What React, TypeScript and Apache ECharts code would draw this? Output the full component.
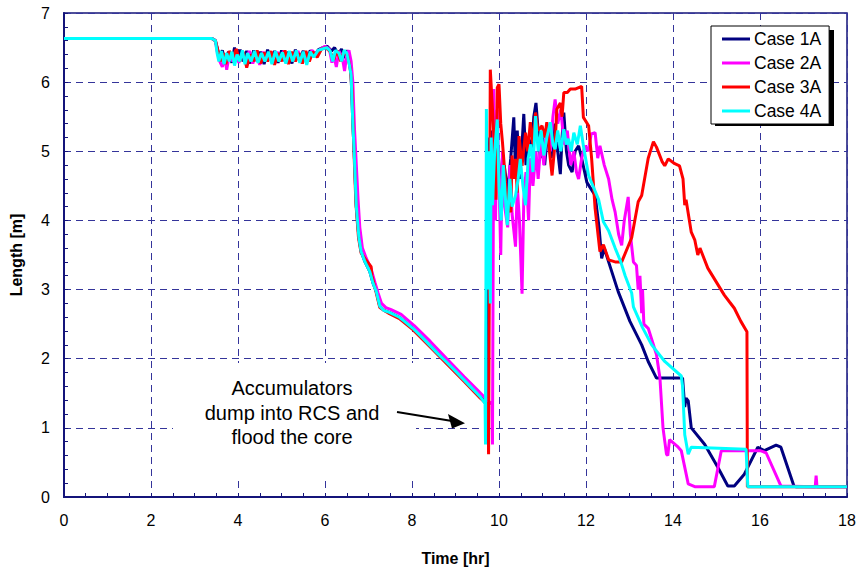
import { useEffect, useRef } from "react";
import * as echarts from "echarts";

const FONT = "'Liberation Sans', Arial, Helvetica, sans-serif";

const CASE_NAMES = ["Case 1A", "Case 2A", "Case 3A", "Case 4A"];
const CASE_COLORS = ["#000080", "#ff00ff", "#ff0000", "#00ffff"];

const X_TICKS = [0, 2, 4, 6, 8, 10, 12, 14, 16, 18];
const Y_TICKS = [0, 1, 2, 3, 4, 5, 6, 7];

// [time (hr), length (m)]
const case1A: [number, number][] = [
  [0, 6.63], [3.4, 6.63], [3.48, 6.6], [3.52, 6.5], [3.58, 6.35], [3.64, 6.46], [3.7, 6.3],
  [3.78, 6.44], [3.86, 6.28], [3.92, 6.5], [3.98, 6.32], [4.05, 6.47], [4.12, 6.3], [4.2, 6.45],
  [4.28, 6.27], [4.36, 6.46], [4.44, 6.3], [4.52, 6.44], [4.6, 6.26], [4.68, 6.47], [4.76, 6.32],
  [4.84, 6.45], [4.92, 6.28], [5.0, 6.46], [5.08, 6.3], [5.16, 6.44], [5.24, 6.27], [5.32, 6.47],
  [5.4, 6.33], [5.5, 6.45], [5.58, 6.3], [5.66, 6.46], [5.75, 6.38], [5.85, 6.47], [5.95, 6.5],
  [6.05, 6.52], [6.15, 6.45], [6.22, 6.5], [6.3, 6.4], [6.38, 6.48], [6.45, 6.35], [6.52, 6.46],
  [6.56, 6.3], [6.6, 6.1], [6.64, 5.4], [6.67, 5.0], [6.72, 4.2], [6.78, 3.75], [6.83, 3.55],
  [6.92, 3.4], [7.03, 3.26], [7.1, 3.1], [7.18, 2.97], [7.26, 2.76], [7.35, 2.7], [7.48, 2.67],
  [7.71, 2.6], [7.85, 2.53], [8.02, 2.44], [8.2, 2.33], [8.4, 2.2], [8.6, 2.07], [8.78, 1.96],
  [9.0, 1.82], [9.2, 1.69], [9.4, 1.56], [9.57, 1.45], [9.69, 1.36], [9.7, 0.8], [9.73, 5.2],
  [9.78, 4.4], [9.85, 5.3], [9.9, 4.5], [9.98, 5.0], [10.05, 4.3], [10.12, 4.8], [10.2, 4.4],
  [10.27, 4.9], [10.34, 5.49], [10.38, 4.7], [10.42, 5.3], [10.47, 4.6], [10.52, 5.0],
  [10.57, 5.54], [10.62, 4.8], [10.68, 5.2], [10.75, 5.0], [10.8, 5.5], [10.85, 5.7], [10.9, 5.3],
  [10.95, 4.9], [11.0, 5.2], [11.05, 4.8], [11.12, 5.3], [11.2, 4.9], [11.28, 5.4], [11.35, 5.0],
  [11.41, 4.67], [11.45, 5.2], [11.49, 5.56], [11.55, 5.0], [11.6, 4.8], [11.68, 4.7], [11.75, 5.0],
  [11.83, 5.08], [11.9, 4.9], [12.02, 4.55], [12.21, 4.36], [12.3, 3.9], [12.36, 3.45],
  [12.42, 3.6], [12.52, 3.4], [12.74, 2.97], [13.01, 2.54], [13.28, 2.2], [13.43, 1.96],
  [13.62, 1.72], [14.22, 1.72], [14.27, 1.3], [14.3, 1.43], [14.35, 1.39], [14.42, 1.0],
  [14.73, 0.76], [15.03, 0.43], [15.26, 0.16], [15.41, 0.16], [15.64, 0.33], [15.95, 0.72],
  [16.1, 0.67], [16.37, 0.75], [16.48, 0.72], [16.78, 0.16], [16.82, 0.15], [18, 0.15],
];

const case2A: [number, number][] = [
  [0, 6.63], [3.4, 6.63], [3.48, 6.6], [3.52, 6.45], [3.58, 6.3], [3.64, 6.22], [3.7, 6.35],
  [3.74, 6.18], [3.8, 6.4], [3.88, 6.3], [3.95, 6.45], [4.02, 6.28], [4.1, 6.42], [4.18, 6.3],
  [4.26, 6.45], [4.34, 6.27], [4.42, 6.4], [4.5, 6.25], [4.58, 6.44], [4.66, 6.3], [4.74, 6.42],
  [4.82, 6.27], [4.9, 6.44], [4.98, 6.3], [5.06, 6.46], [5.14, 6.28], [5.22, 6.42], [5.3, 6.3],
  [5.38, 6.45], [5.46, 6.28], [5.54, 6.44], [5.62, 6.32], [5.7, 6.46], [5.8, 6.4], [5.9, 6.48],
  [6.0, 6.52], [6.1, 6.48], [6.16, 6.28], [6.2, 6.4], [6.26, 6.22], [6.32, 6.45], [6.4, 6.35],
  [6.45, 6.16], [6.5, 6.4], [6.55, 6.46], [6.6, 6.3], [6.64, 6.0], [6.68, 5.3], [6.72, 4.8],
  [6.76, 4.3], [6.8, 3.9], [6.86, 3.6], [6.95, 3.45], [7.06, 3.3], [7.15, 3.1], [7.22, 2.95],
  [7.3, 2.8], [7.4, 2.74], [7.52, 2.71], [7.75, 2.64], [8.05, 2.48], [8.42, 2.25], [8.8, 2.0],
  [9.2, 1.74], [9.5, 1.55], [9.7, 1.42], [9.84, 1.34], [9.85, 0.76], [9.88, 5.9], [9.92, 4.0],
  [9.96, 5.6], [10.0, 4.6], [10.04, 3.5], [10.08, 5.0], [10.13, 4.2], [10.2, 3.9], [10.25, 4.8],
  [10.3, 4.1], [10.38, 3.62], [10.42, 4.5], [10.47, 4.0], [10.53, 2.94], [10.57, 4.3],
  [10.62, 4.7], [10.68, 4.0], [10.72, 4.9], [10.78, 4.5], [10.85, 5.0], [10.9, 4.6], [10.97, 5.2],
  [11.03, 4.8], [11.1, 5.4], [11.18, 5.0], [11.24, 5.5], [11.29, 5.75], [11.35, 5.4],
  [11.42, 5.6], [11.5, 5.1], [11.57, 5.3], [11.65, 4.8], [11.72, 5.0], [11.78, 4.7], [11.83, 4.6],
  [11.9, 4.9], [11.98, 5.08], [12.05, 5.0], [12.12, 5.25], [12.21, 5.27], [12.27, 4.9],
  [12.32, 5.08], [12.42, 4.8], [12.52, 4.6], [12.6, 4.3], [12.67, 4.12], [12.75, 3.8],
  [12.82, 3.64], [12.88, 4.0], [12.97, 4.34], [13.02, 3.8], [13.09, 3.4], [13.16, 3.35],
  [13.2, 3.0], [13.24, 3.2], [13.28, 2.66], [13.3, 3.0], [13.33, 2.5], [13.43, 2.44],
  [13.62, 2.06], [13.7, 1.72], [13.77, 1.0], [13.85, 0.62], [13.88, 0.6], [13.92, 0.83],
  [14.12, 0.72], [14.19, 0.67], [14.35, 0.19], [14.5, 0.15], [14.95, 0.15], [15.11, 0.67],
  [15.64, 0.67], [16.0, 0.67], [16.14, 0.64], [16.48, 0.16], [17.27, 0.15], [17.29, 0.31],
  [17.31, 0.15], [18, 0.15],
];

const case3A: [number, number][] = [
  [0, 6.63], [3.4, 6.63], [3.48, 6.6], [3.52, 6.5], [3.6, 6.3], [3.66, 6.42], [3.72, 6.26],
  [3.8, 6.45], [3.88, 6.35], [3.96, 6.48], [4.04, 6.3], [4.12, 6.44], [4.2, 6.21], [4.28, 6.4],
  [4.36, 6.3], [4.44, 6.46], [4.52, 6.27], [4.6, 6.43], [4.68, 6.3], [4.76, 6.45], [4.84, 6.25],
  [4.92, 6.42], [5.0, 6.3], [5.08, 6.46], [5.16, 6.26], [5.24, 6.44], [5.32, 6.3], [5.4, 6.42],
  [5.48, 6.27], [5.56, 6.45], [5.64, 6.3], [5.72, 6.44], [5.82, 6.36], [5.92, 6.48], [6.02, 6.5],
  [6.12, 6.44], [6.2, 6.32], [6.28, 6.46], [6.36, 6.3], [6.44, 6.45], [6.52, 6.38], [6.58, 6.2],
  [6.62, 5.9], [6.66, 5.1], [6.71, 4.25], [6.77, 3.75], [6.83, 3.53], [6.95, 3.42], [7.06, 3.33],
  [7.08, 3.2], [7.18, 2.95], [7.26, 2.74], [7.48, 2.65], [7.71, 2.58], [8.02, 2.42], [8.4, 2.18],
  [8.78, 1.94], [9.2, 1.67], [9.57, 1.43], [9.75, 1.33], [9.76, 0.62], [9.8, 6.18], [9.85, 5.61],
  [9.89, 5.13], [9.93, 4.3], [9.96, 5.92], [10.0, 5.97], [10.04, 5.4], [10.08, 5.13],
  [10.15, 4.55], [10.2, 4.22], [10.27, 4.12], [10.3, 4.94], [10.34, 4.6], [10.38, 4.89],
  [10.42, 4.4], [10.46, 5.22], [10.53, 4.79], [10.61, 5.27], [10.66, 5.0], [10.72, 5.42],
  [10.78, 5.1], [10.84, 5.56], [10.9, 5.3], [10.99, 5.37], [11.05, 5.2], [11.1, 5.42],
  [11.16, 5.0], [11.22, 4.65], [11.29, 5.13], [11.33, 5.61], [11.41, 5.7], [11.45, 5.5],
  [11.49, 5.85], [11.57, 5.85], [11.64, 5.9], [11.75, 5.9], [11.9, 5.94], [11.94, 5.49],
  [12.06, 5.37], [12.13, 4.89], [12.21, 4.17], [12.32, 3.55], [12.4, 3.65], [12.52, 3.43],
  [12.67, 3.4], [12.82, 3.4], [13.05, 3.75], [13.2, 4.27], [13.28, 4.36], [13.43, 4.9],
  [13.55, 5.14], [13.62, 5.06], [13.75, 4.85], [13.81, 4.79], [13.89, 4.89], [14.04, 4.82],
  [14.15, 4.79], [14.23, 4.6], [14.27, 4.22], [14.3, 4.3], [14.42, 3.83], [14.5, 3.72],
  [14.57, 3.5], [14.62, 3.6], [14.8, 3.31], [15.18, 2.92], [15.3, 2.82], [15.41, 2.73],
  [15.56, 2.54], [15.7, 2.39], [15.71, 0.15], [18, 0.15],
];

const case4A: [number, number][] = [
  [0, 6.63], [3.4, 6.63], [3.48, 6.6], [3.52, 6.42], [3.56, 6.3], [3.62, 6.45], [3.68, 6.26],
  [3.74, 6.42], [3.8, 6.3], [3.86, 6.44], [3.92, 6.24], [3.98, 6.4], [4.04, 6.3], [4.1, 6.46],
  [4.16, 6.26], [4.22, 6.42], [4.3, 6.3], [4.38, 6.45], [4.46, 6.28], [4.54, 6.42], [4.62, 6.3],
  [4.7, 6.44], [4.78, 6.26], [4.86, 6.45], [4.94, 6.3], [5.02, 6.43], [5.1, 6.27], [5.18, 6.45],
  [5.26, 6.3], [5.34, 6.46], [5.42, 6.28], [5.5, 6.44], [5.58, 6.25], [5.66, 6.44], [5.74, 6.36],
  [5.84, 6.46], [5.94, 6.48], [6.04, 6.5], [6.12, 6.45], [6.18, 6.3], [6.24, 6.46], [6.32, 6.42],
  [6.38, 6.3], [6.44, 6.46], [6.5, 6.42], [6.56, 6.25], [6.6, 6.1], [6.64, 5.4], [6.67, 5.0],
  [6.72, 4.2], [6.78, 3.75], [6.83, 3.55], [6.92, 3.4], [7.03, 3.26], [7.1, 3.1], [7.18, 2.97],
  [7.26, 2.76], [7.35, 2.7], [7.48, 2.67], [7.71, 2.6], [7.85, 2.53], [8.02, 2.44], [8.2, 2.33],
  [8.4, 2.2], [8.6, 2.07], [8.78, 1.96], [9.0, 1.82], [9.2, 1.69], [9.4, 1.56], [9.57, 1.45],
  [9.68, 1.35], [9.69, 0.76], [9.71, 5.61], [9.74, 3.0], [9.76, 5.0], [9.8, 2.8], [9.82, 5.2],
  [9.85, 4.22], [9.9, 5.0], [9.96, 5.46], [10.0, 4.5], [10.05, 4.0], [10.1, 4.8], [10.15, 4.3],
  [10.19, 3.93], [10.25, 4.6], [10.3, 4.2], [10.38, 4.36], [10.44, 4.6], [10.49, 4.89],
  [10.55, 4.5], [10.61, 4.22], [10.67, 4.9], [10.73, 5.1], [10.78, 4.7], [10.84, 5.51],
  [10.9, 5.0], [10.97, 5.3], [11.03, 4.94], [11.1, 5.2], [11.18, 5.42], [11.24, 5.1],
  [11.29, 5.03], [11.35, 5.3], [11.42, 5.0], [11.49, 5.32], [11.55, 5.1], [11.6, 5.18],
  [11.66, 5.0], [11.72, 5.27], [11.8, 5.1], [11.87, 5.37], [11.94, 5.08], [12.06, 4.65],
  [12.29, 4.3], [12.4, 3.98], [12.52, 3.85], [12.67, 3.6], [12.8, 3.4], [12.9, 3.2],
  [13.05, 2.95], [13.09, 2.75], [13.3, 2.45], [13.51, 2.2], [13.81, 1.96], [14.19, 1.75],
  [14.22, 1.6], [14.27, 0.9], [14.35, 0.62], [14.42, 0.72], [15.68, 0.69], [15.72, 0.15],
  [18, 0.15],
];

const CASE_DATA = [case1A, case2A, case3A, case4A];

const ANNOTATION = ["Accumulators", "dump into RCS and", "flood the core"];

const GRID_COLOR = "#34349a";
const AXIS_COLOR = "#14147a";

export default function App() {
  const ref = useRef<HTMLDivElement>(null);

  useEffect(() => {
    if (!ref.current) return;
    const chart = echarts.init(ref.current, null, { renderer: "svg" });

    chart.setOption({
      animation: false,
      backgroundColor: "#ffffff",
      textStyle: { fontFamily: FONT },
      grid: {
        left: 60,
        right: 12,
        top: 13,
        bottom: 71,
        show: true,
        borderColor: AXIS_COLOR,
        borderWidth: 1.5,
        backgroundColor: "transparent",
      },
      xAxis: {
        type: "value",
        min: X_TICKS[0],
        max: X_TICKS[X_TICKS.length - 1],
        interval: X_TICKS[1] - X_TICKS[0],
        name: "Time [hr]",
        nameLocation: "middle",
        nameGap: 53,
        nameTextStyle: { fontSize: 16, fontWeight: "bold", color: "#000", fontFamily: FONT },
        axisLine: { show: true, lineStyle: { color: AXIS_COLOR, width: 2 } },
        axisTick: { show: true, inside: true, length: 4, lineStyle: { color: AXIS_COLOR } },
        minorTick: { show: true, splitNumber: 4, length: 4, lineStyle: { color: AXIS_COLOR } },
        axisLabel: { fontSize: 16, color: "#000", margin: 15, fontFamily: FONT },
        splitLine: { show: true, lineStyle: { color: GRID_COLOR, type: [7, 5], width: 1 } },
      },
      yAxis: {
        type: "value",
        min: Y_TICKS[0],
        max: Y_TICKS[Y_TICKS.length - 1],
        interval: Y_TICKS[1] - Y_TICKS[0],
        name: "Length [m]",
        nameLocation: "middle",
        nameGap: 40,
        nameTextStyle: { fontSize: 16, fontWeight: "bold", color: "#000", fontFamily: FONT },
        axisLine: { show: true, lineStyle: { color: AXIS_COLOR, width: 2 } },
        axisTick: { show: true, inside: true, length: 4, lineStyle: { color: AXIS_COLOR } },
        minorTick: { show: true, splitNumber: 5, length: 4, lineStyle: { color: AXIS_COLOR } },
        axisLabel: { fontSize: 16, color: "#000", margin: 14, fontFamily: FONT },
        splitLine: { show: true, lineStyle: { color: GRID_COLOR, type: [7, 5], width: 1 } },
      },
      legend: {
        data: CASE_NAMES,
        orient: "vertical",
        left: 711,
        top: 26,
        padding: [4, 8, 4, 11],
        itemGap: 6,
        itemWidth: 28,
        itemHeight: 3,
        icon: "rect",
        backgroundColor: "#ffffff",
        borderColor: "#000000",
        borderWidth: 1,
        borderRadius: 0,
        z: 10,
        textStyle: { fontSize: 17.5, color: "#000", fontFamily: FONT, lineHeight: 18, padding: [0, 0, 0, -1] },
      },
      graphic: [
        // legend drop shadow
        {
          type: "rect",
          z: 1,
          shape: { x: 715, y: 30, width: 119, height: 96 },
          style: { fill: "#000000" },
        },
        // white backing behind the annotation text
        {
          type: "rect",
          z: 1,
          shape: { x: 173, y: 363, width: 243, height: 114 },
          style: { fill: "#ffffff" },
        },
        {
          type: "text",
          z: 2,
          x: 292,
          y: 376,
          style: {
            text: ANNOTATION.join("\n"),
            fontSize: 20,
            lineHeight: 24.5,
            fill: "#000",
            align: "center",
            verticalAlign: "top",
            fontFamily: FONT,
          },
        },
        {
          type: "line",
          z: 2,
          shape: { x1: 397, y1: 412, x2: 452, y2: 421 },
          style: { stroke: "#000", lineWidth: 2 },
        },
        {
          type: "polygon",
          z: 2,
          shape: { points: [[448, 414], [452, 428.5], [465, 423.3]] },
          style: { fill: "#000" },
        },
      ],
      series: CASE_NAMES.map((name, i) => ({
        type: "line",
        name,
        data: CASE_DATA[i],
        symbol: "none",
        showSymbol: false,
        z: 3 + i,
        lineStyle: { color: CASE_COLORS[i], width: 3 },
        itemStyle: { color: CASE_COLORS[i] },
      })),
    });

    return () => chart.dispose();
  }, []);

  return (
    <div
      ref={ref}
      style={{ position: "fixed", left: 0, top: 0, width: 859, height: 571, background: "#fff" }}
    />
  );
}
